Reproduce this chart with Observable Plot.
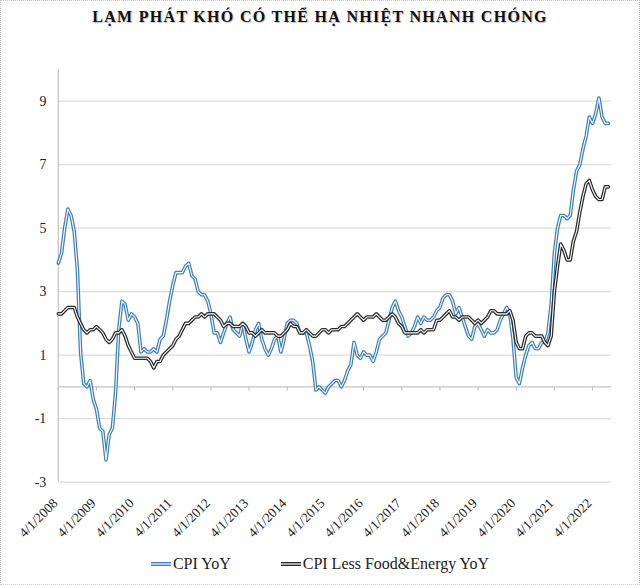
<!DOCTYPE html>
<html>
<head>
<meta charset="utf-8">
<script src="https://cdn.jsdelivr.net/npm/d3@7"></script>
<script src="https://cdn.jsdelivr.net/npm/@observablehq/plot@0.6"></script>
<style>
  html, body { margin: 0; padding: 0; background: #fff; }
  #wrap { position: relative; width: 640px; height: 585px; box-sizing: border-box; border: 1px dotted #c8c8c8; overflow: hidden; }
  #title { position: absolute; top: 7px; left: 0; width: 100%; text-align: center;
    font-family: "Liberation Serif", "Times New Roman", serif; font-weight: bold; font-size: 16px;
    letter-spacing: 1.3px; color: #111; text-shadow: 1px 1px 1px rgba(0,0,0,0.25); }
  #chart { position: absolute; top: 40px; left: 0; }
  #legend { position: absolute; top: 554px; left: 0; width: 100%; display: flex; justify-content: center; gap: 50px;
    font-family: "Liberation Serif", "Times New Roman", serif; font-size: 16px; color: #222; }
  .item { display: flex; align-items: center; gap: 2px; }
</style>
</head>
<body>
<div id="wrap">
  <div id="title">LẠM PHÁT KHÓ CÓ THỂ HẠ NHIỆT NHANH CHÓNG</div>
  <div id="chart"></div>
  <div id="legend"></div>
</div>
<script>
// Monthly series, Apr 2008 .. Sep 2022
const cpiYoY = [
  3.9, 4.2, 5.0, 5.6, 5.4, 4.9, 3.7, 1.1, 0.1,
  0.0, 0.2, -0.4, -0.7, -1.3, -1.4, -2.3, -1.5, -1.3, -0.2, 1.8, 2.7,
  2.6, 2.1, 2.3, 2.2, 2.0, 1.1, 1.2, 1.1, 1.1, 1.2, 1.1, 1.5,
  1.6, 2.1, 2.7, 3.2, 3.6, 3.6, 3.6, 3.8, 3.9, 3.5, 3.4, 3.0,
  2.9, 2.9, 2.7, 2.3, 1.7, 1.7, 1.4, 1.7, 2.0, 2.2, 1.8, 1.7,
  1.6, 2.0, 1.5, 1.1, 1.4, 1.8, 2.0, 1.5, 1.2, 1.0, 1.2, 1.5,
  1.6, 1.1, 1.5, 2.0, 2.1, 2.1, 2.0, 1.7, 1.7, 1.7, 1.3, 0.8,
  -0.1, 0.0, -0.1, -0.2, 0.0, 0.1, 0.2, 0.2, 0.0, 0.2, 0.5, 0.7,
  1.4, 1.0, 0.9, 1.1, 1.0, 1.0, 0.8, 1.1, 1.5, 1.6, 1.7, 2.1,
  2.5, 2.7, 2.4, 2.2, 1.9, 1.6, 1.7, 1.9, 2.2, 2.0, 2.2, 2.1,
  2.1, 2.2, 2.4, 2.5, 2.8, 2.9, 2.9, 2.7, 2.3, 2.5, 2.2, 1.9,
  1.6, 1.5, 1.9, 2.0, 1.8, 1.6, 1.8, 1.7, 1.7, 1.8, 2.1, 2.3,
  2.5, 2.3, 1.5, 0.3, 0.1, 0.6, 1.0, 1.3, 1.4, 1.2, 1.2, 1.4,
  1.4, 1.7, 2.6, 4.2, 5.0, 5.4, 5.4, 5.3, 5.4, 6.2, 6.8, 7.0,
  7.5, 7.9, 8.5, 8.3, 8.6, 9.1, 8.5, 8.3, 8.3
];
const coreYoY = [
  2.3, 2.3, 2.4, 2.5, 2.5, 2.5, 2.2, 2.0, 1.8,
  1.7, 1.8, 1.8, 1.9, 1.8, 1.7, 1.5, 1.4, 1.5, 1.7, 1.7, 1.8,
  1.6, 1.3, 1.1, 0.9, 0.9, 0.9, 0.9, 0.9, 0.8, 0.6, 0.8, 0.8,
  1.0, 1.1, 1.2, 1.3, 1.5, 1.6, 1.8, 2.0, 2.0, 2.1, 2.2, 2.2,
  2.3, 2.2, 2.3, 2.3, 2.3, 2.2, 2.1, 1.9, 2.0, 2.0, 1.9, 1.9,
  1.9, 2.0, 1.9, 1.7, 1.7, 1.6, 1.7, 1.8, 1.7, 1.7, 1.7, 1.7,
  1.6, 1.6, 1.7, 1.8, 2.0, 1.9, 1.9, 1.7, 1.7, 1.8, 1.7, 1.6,
  1.6, 1.7, 1.8, 1.8, 1.7, 1.8, 1.8, 1.8, 1.9, 1.9, 2.0, 2.1,
  2.2, 2.3, 2.2, 2.1, 2.2, 2.2, 2.2, 2.3, 2.2, 2.1, 2.1, 2.2,
  2.3, 2.2, 2.0, 1.9, 1.7, 1.7, 1.7, 1.7, 1.7, 1.8, 1.7, 1.8,
  1.8, 1.8, 2.1, 2.1, 2.2, 2.3, 2.4, 2.2, 2.2, 2.1, 2.2, 2.2,
  2.2, 2.1, 2.0, 2.1, 2.0, 2.1, 2.2, 2.4, 2.4, 2.3, 2.3, 2.3,
  2.3, 2.4, 2.1, 1.4, 1.2, 1.2, 1.6, 1.7, 1.7, 1.6, 1.6, 1.6,
  1.4, 1.3, 1.6, 3.0, 3.8, 4.5, 4.3, 4.0, 4.0, 4.6, 4.9, 5.5,
  6.0, 6.4, 6.5, 6.2, 6.0, 5.9, 5.9, 6.3, 6.3
];
const xTickLabels = ["4/1/2008","4/1/2009","4/1/2010","4/1/2011","4/1/2012","4/1/2013","4/1/2014",
  "4/1/2015","4/1/2016","4/1/2017","4/1/2018","4/1/2019","4/1/2020","4/1/2021","4/1/2022"];
const yTicks = [-3, -1, 1, 3, 5, 7, 9];
const seriesNames = ["CPI YoY", "CPI Less Food&Energy YoY"];
const seriesColors = ["#3b7fc7", "#2a2a2a"];
const nCategories = 175; // category slots on the axis (Apr 2008 .. Oct 2022)

const rows = cpiYoY.map((v, i) => ({i, cpi: v, core: coreYoY[i]}));
const xTickIdx = xTickLabels.map((_, k) => k * 12);
const font = '"Liberation Serif", "Times New Roman", serif';

const plot = Plot.plot({
  width: 640,
  height: 520,
  marginTop: 28,
  marginBottom: 78,
  marginLeft: 57,
  marginRight: 28,
  style: {fontFamily: font, fontSize: "13px", color: "#222", background: "transparent", overflow: "visible"},
  x: {type: "linear", domain: [0, nCategories - 1]},
  y: {domain: [-3, 10]},
  marks: [
    Plot.gridY(yTicks, {stroke: "#dcdcdc", strokeOpacity: 1, strokeWidth: 1.4}),
    Plot.ruleX([0], {stroke: "#c4c4c4", strokeWidth: 1.2}),
    Plot.ruleY([0], {stroke: "#c4c4c4", strokeWidth: 1.2}),
    Plot.ruleX(xTickIdx, {y1: 0, y2: -0.14, stroke: "#c4c4c4", strokeWidth: 1.2}),
    Plot.axisY(yTicks, {tickSize: 0, tickPadding: 12, fontSize: 14, label: null, fill: "#222",
      tickFormat: d => String(d)}),
    Plot.axisX(xTickIdx, {tickSize: 0, tickRotate: -45, tickPadding: 19, dx: -3, fontSize: 13.5, label: null,
      tickFormat: d => xTickLabels[d / 12], fill: "#222"}),
    Plot.line(rows, {x: "i", y: "cpi", stroke: seriesColors[0], strokeWidth: 3.6}),
    Plot.line(rows, {x: "i", y: "cpi", stroke: "#ffffff", strokeWidth: 1.1}),
    Plot.line(rows, {x: "i", y: "core", stroke: seriesColors[1], strokeWidth: 3.6}),
    Plot.line(rows, {x: "i", y: "core", stroke: "#ffffff", strokeWidth: 1.1})
  ]
});
document.getElementById("chart").appendChild(plot);

const legend = document.getElementById("legend");
seriesNames.forEach((name, k) => {
  const item = document.createElement("div");
  item.className = "item";
  item.innerHTML = `<svg width="20" height="8"><line x1="0" y1="4" x2="20" y2="4" stroke="${seriesColors[k]}" stroke-width="4"/><line x1="0" y1="4" x2="20" y2="4" stroke="#fff" stroke-width="1.2"/></svg><span>${name}</span>`;
  legend.appendChild(item);
});
</script>
</body>
</html>
